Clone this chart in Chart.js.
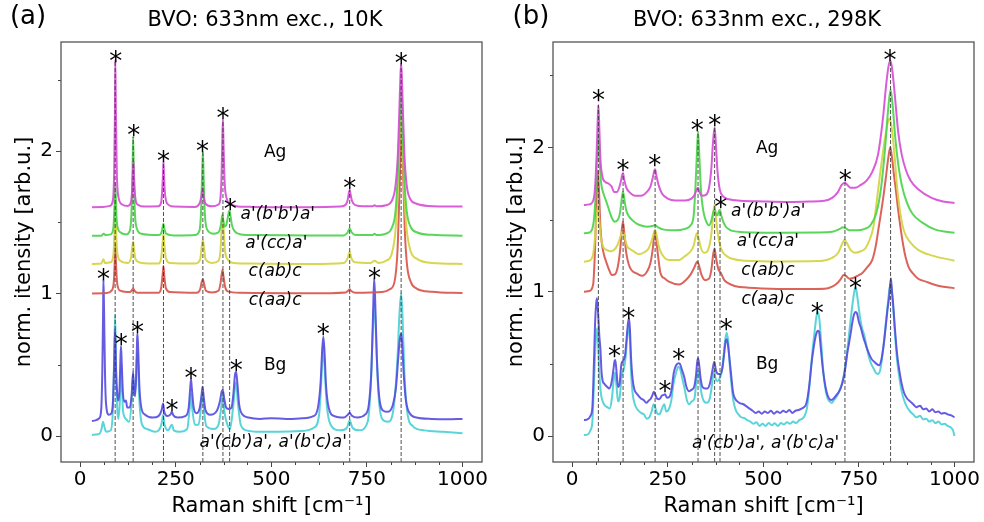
<!DOCTYPE html>
<html>
<head>
<meta charset="utf-8">
<script src="https://cdn.jsdelivr.net/npm/chart.js@4.4.1/dist/chart.umd.min.js"></script>
<style>
  body { margin: 0; background: #fff; }
  #wrap { position: relative; width: 984px; height: 522px; }
  canvas { position: absolute; top: 0; }
</style>
</head>
<body>
<div id="wrap">
  <canvas id="panelA" width="492" height="522" style="left:0"></canvas>
  <canvas id="panelB" width="492" height="522" style="left:492px"></canvas>
</div>
<script>
// ---- axis ticks ----
const xTicks = [0, 250, 500, 750, 1000];
const yTicks = [0, 1, 2];

// ---- text labels ----
const titles = ['BVO: 633nm exc., 10K', 'BVO: 633nm exc., 298K'];
const tags = ['(a)', '(b)'];
const modeLabels = ['Ag', "a'(b'b')a'", "a'(cc)a'", 'c(ab)c', 'c(aa)c', 'Bg', "a'(cb')a', a'(b'c)a'"];
const labelXA = [510, 517, 513, 510, 510, 510, 505];
const labelYA = [1.99, 1.551, 1.354, 1.153, 0.954, 0.498, -0.047];
const labelXB = [510, 513, 512, 512, 512, 510, 506];
const labelYB = [1.994, 1.554, 1.347, 1.146, 0.947, 0.497, -0.05];

// ---- peak markers (asterisks) ----
const starsA = [[93.4, 2.68], [140.5, 2.16], [218, 1.98], [320, 2.05], [373.5, 2.28], [392.7, 1.64], [705, 1.79], [839.5, 2.67],
  [61, 1.149], [107.3, 0.697], [150, 0.779], [240, 0.229], [289.7, 0.456], [408, 0.51], [636, 0.763], [769.6, 1.158]];
const starsB = [[68.7, 2.375], [133.3, 1.89], [216, 1.924], [327.5, 2.167], [372.7, 2.206], [388.4, 1.636], [714.3, 1.82], [831, 2.652],
  [110.6, 0.605], [148, 0.868], [243, 0.36], [278.7, 0.584], [403.3, 0.792], [641, 0.903], [741.3, 1.076]];

// ---- dashed guide lines: position and top ----
const guideXA = [91.6, 138.7, 218, 321, 373.5, 391, 705, 839.5];
const guideTopA = [2.64, 2.10, 1.925, 1.99, 2.22, 1.58, 1.726, 2.61];
const guideXB = [68.7, 133.3, 217, 329.3, 372.7, 386.8, 713.5, 832.8];
const guideTopB = [2.294, 1.82, 1.848, 2.109, 2.139, 1.566, 1.755, 2.60];

// ---- panel (a): 10K spectra ----
const aBB = [[31,1.605],[60,1.607],[78,1.615],[86,1.66],[89,1.85],[91,2.25],[92,2.64],[93.5,2.3],[96,1.85],[100,1.68],[110,1.625],[125,1.615],[133,1.64],[136,1.72],[138,1.85],[139.5,1.93],[141,1.82],[144,1.68],[150,1.625],[170,1.61],[205,1.612],[212,1.64],[215,1.74],[217,1.86],[218,1.925],[219.5,1.82],[222,1.7],[228,1.63],[245,1.61],[300,1.608],[312,1.63],[317,1.68],[320,1.74],[323,1.68],[328,1.63],[345,1.612],[362,1.625],[367,1.67],[370,1.84],[372,2.1],[373.5,2.22],[375,2.05],[378,1.78],[383,1.67],[392,1.63],[405,1.615],[450,1.608],[600,1.606],[680,1.61],[695,1.625],[700,1.66],[703,1.71],[705,1.726],[707,1.7],[711,1.65],[720,1.62],[740,1.612],[765,1.612],[770,1.62],[775,1.612],[800,1.62],[815,1.65],[825,1.76],[831,1.98],[835,2.3],[838,2.55],[839.5,2.61],[841,2.55],[844,2.3],[848,1.98],[854,1.76],[864,1.66],[880,1.63],[910,1.615],[1000,1.61]];
const aCC = [[31,1.405],[55,1.405],[62,1.42],[66,1.41],[80,1.415],[87,1.46],[90,1.62],[92,1.78],[94,1.6],[97,1.48],[105,1.43],[120,1.415],[130,1.44],[134,1.55],[137,1.85],[138.7,2.10],[140.5,1.85],[143,1.58],[148,1.46],[160,1.42],[205,1.41],[213,1.43],[216,1.47],[218,1.49],[220,1.46],[225,1.42],[245,1.408],[300,1.41],[312,1.44],[316,1.56],[319,1.83],[321,1.995],[323,1.82],[326,1.57],[332,1.45],[350,1.42],[362,1.43],[368,1.48],[372,1.55],[374,1.52],[378,1.47],[382,1.48],[386,1.53],[389,1.575],[391,1.581],[393,1.55],[397,1.48],[405,1.435],[420,1.415],[460,1.41],[600,1.407],[690,1.408],[700,1.43],[705,1.457],[710,1.43],[720,1.41],[765,1.41],[770,1.42],[775,1.41],[800,1.42],[815,1.46],[825,1.58],[831,1.85],[835,2.15],[838,2.4],[839.5,2.45],[841,2.38],[844,2.1],[848,1.8],[854,1.58],[864,1.47],[880,1.43],[920,1.412],[1000,1.406]];
const aAB = [[31,1.207],[55,1.21],[61,1.24],[65,1.215],[80,1.22],[87,1.27],[90,1.45],[92,1.69],[94,1.45],[97,1.29],[105,1.23],[125,1.215],[133,1.25],[136,1.32],[138.7,1.364],[141,1.31],[145,1.24],[160,1.215],[205,1.21],[212,1.25],[216,1.37],[218,1.42],[220,1.36],[224,1.25],[235,1.215],[300,1.21],[314,1.24],[318,1.33],[321,1.375],[324,1.32],[328,1.24],[345,1.215],[362,1.23],[367,1.3],[370,1.45],[372.5,1.56],[375,1.46],[379,1.3],[386,1.24],[400,1.215],[450,1.21],[600,1.208],[690,1.215],[700,1.25],[705,1.293],[709,1.25],[718,1.22],[760,1.215],[770,1.23],[780,1.215],[800,1.23],[815,1.28],[825,1.45],[831,1.75],[835,2.05],[838,2.27],[839.5,2.3],[841,2.25],[844,2.0],[848,1.68],[854,1.45],[864,1.3],[880,1.245],[920,1.215],[1000,1.208]];
const aAA = [[31,1.0],[70,1.003],[82,1.02],[88,1.08],[90.5,1.22],[92,1.35],[94,1.2],[97,1.07],[105,1.02],[130,1.01],[136,1.025],[139,1.036],[142,1.02],[150,1.005],[205,1.005],[212,1.04],[216,1.14],[218,1.193],[220,1.13],[224,1.04],[235,1.01],[305,1.005],[314,1.03],[318,1.08],[321,1.10],[324,1.07],[329,1.02],[345,1.008],[362,1.02],[367,1.07],[370,1.13],[372.5,1.165],[375,1.12],[379,1.05],[386,1.015],[420,1.005],[600,1.002],[695,1.008],[701,1.02],[705,1.03],[709,1.018],[720,1.005],[790,1.01],[810,1.03],[822,1.08],[830,1.3],[835,1.7],[838.5,2.05],[840.5,2.2],[842.5,2.08],[845,1.8],[849,1.45],[855,1.2],[865,1.08],[880,1.035],[920,1.012],[1000,1.003]];
const aCB = [[31,0.105],[40,0.11],[50,0.125],[55,0.18],[58,0.45],[60,0.85],[61,1.10],[62.5,0.9],[65,0.45],[68,0.22],[75,0.15],[82,0.16],[86,0.25],[89,0.5],[91.5,0.75],[94,0.45],[97,0.3],[100,0.25],[103,0.32],[105.5,0.55],[107,0.632],[109,0.5],[112,0.3],[116,0.24],[120,0.25],[123,0.2],[130,0.2],[135,0.3],[138.5,0.45],[141,0.32],[144,0.28],[147,0.45],[149,0.68],[150,0.72],[152,0.6],[155,0.35],[160,0.2],[170,0.15],[190,0.13],[205,0.14],[213,0.18],[217,0.229],[220,0.17],[228,0.14],[236,0.15],[240,0.17],[244,0.145],[255,0.13],[275,0.14],[284,0.2],[288,0.34],[290,0.398],[292,0.34],[297,0.2],[305,0.16],[313,0.2],[318,0.3],[320,0.346],[323,0.28],[328,0.18],[340,0.15],[358,0.18],[366,0.25],[370,0.31],[373,0.323],[377,0.26],[382,0.2],[390,0.19],[396,0.2],[401,0.3],[405,0.43],[408,0.45],[411,0.38],[416,0.22],[425,0.15],[440,0.13],[470,0.12],[500,0.125],[540,0.12],[580,0.125],[610,0.14],[622,0.2],[629,0.38],[633,0.6],[636,0.697],[639,0.6],[643,0.36],[650,0.2],[665,0.14],[690,0.13],[700,0.15],[705,0.164],[710,0.145],[725,0.13],[745,0.15],[755,0.22],[762,0.48],[766,0.85],[769,1.107],[772,0.92],[776,0.55],[782,0.28],[792,0.18],[805,0.17],[818,0.22],[826,0.34],[832,0.55],[836,0.68],[839.5,0.72],[842,0.66],[846,0.45],[852,0.25],[862,0.16],[880,0.13],[920,0.12],[960,0.118],[1000,0.12]];
const aBC = [[31,0.008],[50,0.015],[56,0.05],[60,0.10],[63,0.07],[68,0.03],[80,0.04],[86,0.2],[89,0.55],[91.5,0.85],[94,0.5],[97,0.2],[100,0.12],[104,0.25],[107,0.5],[109,0.4],[112,0.18],[120,0.12],[128,0.1],[135,0.25],[138.5,0.43],[141,0.3],[145,0.35],[149,0.58],[151,0.55],[155,0.25],[162,0.08],[175,0.05],[195,0.03],[210,0.06],[214,0.1],[217,0.15],[220,0.09],[230,0.04],[240,0.08],[245,0.04],[260,0.03],[280,0.05],[286,0.18],[290,0.3],[293,0.2],[300,0.08],[310,0.08],[316,0.2],[320,0.3],[324,0.18],[330,0.07],[350,0.05],[362,0.08],[368,0.18],[373,0.28],[378,0.16],[385,0.08],[392,0.05],[400,0.2],[405,0.34],[408,0.38],[412,0.25],[420,0.08],[435,0.04],[470,0.03],[520,0.03],[580,0.035],[612,0.06],[625,0.15],[630,0.35],[634,0.58],[636,0.65],[639,0.5],[645,0.22],[655,0.08],[680,0.04],[698,0.06],[705,0.11],[712,0.06],[730,0.04],[752,0.1],[760,0.35],[765,0.7],[769,0.95],[773,0.75],[780,0.3],[790,0.12],[805,0.1],[820,0.2],[830,0.55],[835,0.85],[839.5,1.0],[843,0.85],[848,0.45],[855,0.18],[870,0.07],[900,0.04],[950,0.03],[1000,0.02]];

// ---- panel (b): 298K spectra ----
const bBB = [[31,1.60],[45,1.605],[55,1.63],[60,1.72],[64,1.95],[67,2.2],[68.7,2.294],[71,2.15],[74,1.92],[79,1.8],[87,1.76],[95,1.75],[103,1.73],[110,1.69],[117,1.69],[123,1.72],[128,1.77],[131,1.81],[133.3,1.82],[136,1.78],[142,1.72],[150,1.69],[165,1.665],[180,1.665],[195,1.69],[205,1.73],[211,1.79],[215,1.84],[217,1.848],[220,1.81],[226,1.74],[235,1.68],[250,1.645],[270,1.632],[295,1.632],[312,1.645],[320,1.67],[326,1.71],[329.3,1.72],[333,1.69],[340,1.665],[350,1.67],[358,1.72],[364,1.85],[368,2.02],[372.7,2.139],[376,2.02],[380,1.84],[386,1.71],[395,1.66],[410,1.64],[440,1.63],[500,1.625],[560,1.622],[620,1.625],[660,1.63],[680,1.65],[695,1.69],[705,1.74],[713.5,1.755],[720,1.74],[728,1.72],[740,1.72],[755,1.74],[770,1.77],[785,1.83],[800,1.95],[812,2.18],[822,2.45],[828,2.57],[832.8,2.60],[838,2.52],[845,2.33],[853,2.1],[862,1.95],[872,1.85],[885,1.77],[905,1.71],[940,1.65],[970,1.625],[1000,1.615]];
const bCC = [[31,1.405],[45,1.41],[55,1.46],[60,1.6],[64,1.85],[68.7,2.08],[72,1.9],[76,1.75],[82,1.68],[88,1.635],[95,1.58],[101,1.53],[111,1.485],[120,1.5],[126,1.56],[130,1.65],[133.3,1.693],[137,1.63],[142,1.56],[149,1.52],[160,1.49],[170,1.47],[185,1.455],[195,1.45],[210,1.455],[217,1.462],[225,1.445],[240,1.43],[270,1.425],[295,1.435],[310,1.46],[318,1.53],[323,1.75],[327,2.0],[329.3,2.109],[332,1.98],[337,1.7],[343,1.56],[350,1.49],[358,1.46],[364,1.49],[369,1.55],[372.7,1.57],[376,1.54],[380,1.53],[384,1.56],[386.8,1.566],[390,1.53],[396,1.48],[402,1.45],[415,1.425],[435,1.415],[470,1.41],[550,1.408],[640,1.41],[680,1.415],[700,1.435],[708,1.446],[715,1.44],[725,1.425],[745,1.425],[765,1.435],[780,1.46],[795,1.54],[808,1.72],[818,1.98],[826,2.25],[832.8,2.40],[838,2.3],[845,2.07],[853,1.88],[862,1.74],[875,1.62],[890,1.54],[915,1.48],[950,1.43],[1000,1.409]];
const bAB = [[31,1.208],[45,1.215],[55,1.26],[60,1.38],[64,1.52],[68,1.60],[71,1.5],[75,1.38],[81,1.31],[90,1.29],[101,1.28],[110,1.29],[118,1.32],[125,1.37],[130,1.41],[133.3,1.416],[137,1.38],[143,1.32],[155,1.29],[175,1.26],[190,1.275],[200,1.3],[210,1.37],[215,1.42],[217,1.43],[221,1.39],[226,1.32],[235,1.26],[253,1.22],[280,1.22],[297,1.25],[310,1.28],[318,1.32],[323,1.38],[326,1.405],[330,1.38],[336,1.31],[345,1.27],[352,1.275],[360,1.33],[365,1.42],[369,1.54],[372,1.60],[375,1.55],[380,1.42],[388,1.31],[395,1.27],[405,1.245],[416,1.23],[450,1.215],[550,1.21],[640,1.212],[680,1.235],[696,1.27],[706,1.33],[712,1.358],[718,1.34],[728,1.29],[741,1.27],[755,1.28],[767,1.30],[778,1.36],[788,1.45],[800,1.70],[812,1.95],[822,2.12],[829,2.2],[835,2.15],[843,1.95],[850,1.72],[858,1.55],[868,1.42],[885,1.34],[905,1.29],[942,1.25],[1000,1.215]];
const bAA = [[31,1.0],[45,1.005],[55,1.05],[60,1.3],[64,1.65],[67,1.84],[70,1.72],[74,1.45],[78,1.33],[83,1.26],[90,1.2],[97,1.15],[104,1.116],[112,1.12],[120,1.18],[126,1.3],[130,1.43],[133,1.485],[136,1.42],[141,1.28],[148,1.19],[155,1.15],[170,1.125],[183,1.11],[196,1.14],[205,1.2],[211,1.3],[215,1.4],[217,1.416],[220,1.36],[226,1.22],[231,1.13],[243,1.09],[253,1.07],[280,1.05],[297,1.08],[310,1.12],[320,1.17],[327,1.208],[331,1.19],[338,1.12],[348,1.08],[358,1.09],[364,1.15],[369,1.26],[372.5,1.30],[376,1.24],[382,1.16],[389,1.13],[398,1.08],[408,1.06],[425,1.04],[449,1.03],[520,1.02],[600,1.018],[660,1.02],[680,1.035],[694,1.06],[702,1.085],[710,1.116],[716,1.11],[725,1.09],[733,1.093],[746,1.11],[759,1.13],[772,1.17],[785,1.22],[795,1.33],[802,1.45],[812,1.62],[820,1.78],[827,1.93],[832,2.0],[837,1.92],[842,1.8],[846,1.72],[852,1.58],[859,1.44],[866,1.32],[872,1.24],[880,1.17],[890,1.13],[905,1.09],[925,1.07],[960,1.04],[1000,1.024]];
const bCB = [[31,0.111],[40,0.115],[48,0.14],[53,0.2],[57,0.5],[60,0.78],[63,0.92],[65,0.955],[68,0.85],[71,0.7],[74,0.6],[77,0.44],[80,0.38],[84,0.363],[88,0.35],[92,0.34],[97,0.33],[103,0.37],[108,0.46],[111,0.52],[113,0.527],[116,0.45],[120,0.34],[124,0.36],[129,0.5],[133,0.52],[138,0.55],[142,0.66],[146,0.78],[148.6,0.816],[151,0.75],[154,0.55],[158,0.4],[163,0.32],[170,0.29],[180,0.26],[187,0.25],[194,0.23],[200,0.245],[206,0.26],[211,0.29],[214,0.307],[218,0.285],[222,0.26],[228,0.255],[235,0.28],[240,0.285],[243,0.29],[248,0.265],[254,0.27],[260,0.32],[266,0.44],[272,0.49],[278,0.505],[282,0.5],[287,0.46],[293,0.41],[299,0.34],[306,0.31],[312,0.32],[319,0.34],[324,0.42],[327,0.51],[329.3,0.538],[332,0.5],[336,0.4],[341,0.34],[348,0.33],[354,0.33],[360,0.36],[366,0.44],[370,0.5],[372,0.515],[375,0.47],[378,0.44],[383,0.43],[388,0.43],[393,0.47],[398,0.58],[401,0.65],[404,0.67],[407,0.64],[411,0.55],[416,0.42],[421,0.3],[426,0.26],[432,0.24],[440,0.226],[448,0.22],[456,0.205],[464,0.19],[472,0.175],[480,0.16],[488,0.17],[496,0.155],[504,0.17],[512,0.16],[520,0.175],[528,0.155],[536,0.17],[544,0.16],[552,0.175],[560,0.165],[568,0.18],[576,0.16],[584,0.175],[592,0.18],[600,0.19],[606,0.2],[611,0.215],[616,0.27],[621,0.37],[626,0.5],[631,0.6],[636,0.68],[640,0.72],[643,0.73],[646,0.72],[650,0.62],[655,0.48],[660,0.38],[666,0.3],[672,0.26],[678,0.25],[684,0.26],[690,0.28],[696,0.3],[702,0.33],[708,0.38],[712,0.43],[716,0.5],[720,0.58],[724,0.64],[729,0.72],[733,0.79],[737,0.84],[741,0.86],[745,0.85],[750,0.79],[755,0.75],[762,0.68],[767,0.64],[772,0.6],[778,0.56],[784,0.53],[790,0.515],[796,0.5],[803,0.49],[808,0.52],[812,0.58],[816,0.66],[821,0.78],[825,0.88],[829,0.96],[833.6,1.093],[836,1.02],[840,0.9],[844,0.75],[848,0.62],[852,0.52],[856,0.45],[862,0.36],[868,0.3],[876,0.26],[884,0.24],[892,0.22],[900,0.2],[910,0.21],[918,0.185],[926,0.19],[934,0.17],[942,0.185],[950,0.165],[958,0.17],[966,0.155],[974,0.16],[982,0.15],[990,0.145],[1000,0.13]];
const bBC = [[31,0.007],[40,0.01],[48,0.04],[53,0.1],[57,0.35],[61,0.62],[65,0.746],[68,0.65],[71,0.45],[75,0.3],[80,0.24],[86,0.21],[92,0.2],[98,0.19],[104,0.26],[108,0.37],[112,0.44],[116,0.35],[120,0.24],[124,0.26],[130,0.42],[135,0.46],[140,0.55],[144,0.68],[148,0.76],[151,0.68],[154,0.45],[158,0.3],[164,0.22],[172,0.18],[180,0.16],[188,0.15],[195,0.12],[202,0.13],[208,0.17],[213,0.22],[217,0.2],[222,0.16],[228,0.15],[235,0.19],[241,0.22],[246,0.17],[252,0.18],[259,0.24],[265,0.36],[272,0.44],[278,0.48],[283,0.46],[288,0.4],[294,0.33],[300,0.25],[306,0.22],[313,0.24],[320,0.26],[325,0.38],[329,0.45],[333,0.4],[338,0.3],[345,0.24],[352,0.23],[360,0.26],[366,0.36],[371,0.45],[375,0.4],[380,0.38],[386,0.4],[391,0.44],[396,0.55],[400,0.66],[404,0.716],[408,0.66],[412,0.5],[417,0.35],[422,0.24],[428,0.18],[435,0.15],[442,0.13],[450,0.125],[458,0.11],[466,0.1],[474,0.085],[482,0.095],[490,0.07],[498,0.085],[506,0.07],[514,0.09],[522,0.075],[530,0.088],[538,0.07],[546,0.09],[554,0.08],[562,0.095],[570,0.085],[578,0.1],[586,0.09],[594,0.11],[602,0.12],[608,0.14],[614,0.19],[619,0.3],[624,0.45],[629,0.6],[634,0.72],[639,0.83],[643,0.86],[647,0.8],[651,0.66],[656,0.48],[661,0.35],[667,0.27],[673,0.24],[679,0.23],[685,0.25],[691,0.27],[697,0.3],[703,0.34],[709,0.4],[714,0.48],[719,0.58],[724,0.7],[729,0.82],[734,0.93],[738,1.0],[741,1.03],[744,1.0],[748,0.92],[753,0.82],[758,0.75],[764,0.7],[770,0.62],[776,0.55],[782,0.5],[788,0.47],[794,0.44],[800,0.43],[806,0.46],[811,0.55],[816,0.66],[821,0.8],[826,0.93],[830,1.02],[833.6,1.06],[837,0.98],[841,0.84],[845,0.68],[850,0.52],[855,0.42],[861,0.32],[868,0.25],[876,0.2],[884,0.17],[892,0.15],[900,0.13],[910,0.14],[918,0.115],[926,0.12],[934,0.1],[942,0.11],[950,0.09],[958,0.1],[966,0.08],[974,0.085],[982,0.07],[990,0.06],[996,0.04],[1000,0.0]];

const FONT = '"DejaVu Sans", sans-serif';
Chart.defaults.font.family = FONT;
Chart.defaults.color = '#000';

const colors = {
  bb: 'rgba(214, 78, 214, 0.92)',
  cc: 'rgba(76, 210, 76, 0.92)',
  ab: 'rgba(210, 210, 66, 0.92)',
  aa: 'rgba(216, 86, 76, 0.92)',
  cb: 'rgba(88, 78, 222, 0.92)',
  bc: 'rgba(76, 208, 214, 0.92)'
};

// text, stars, minor ticks and frame
const decor = {
  id: 'decor',
  afterDatasetsDraw(chart, args, o) {
    const { ctx, chartArea: a } = chart;
    const x = chart.scales.x, y = chart.scales.y;
    ctx.save();

    // minor ticks
    ctx.strokeStyle = '#444';
    ctx.lineWidth = 1;
    for (let v = 62.5; v < x.max; v += 62.5) {
      if (v % 250 === 0) continue;
      const px = Math.round(x.getPixelForValue(v)) + 0.5;
      ctx.beginPath(); ctx.moveTo(px, a.bottom); ctx.lineTo(px, a.bottom + 3); ctx.stroke();
    }
    for (let v = 0.5; v < y.max; v += 1) {
      const py = Math.round(y.getPixelForValue(v)) + 0.5;
      ctx.beginPath(); ctx.moveTo(a.left - 3, py); ctx.lineTo(a.left, py); ctx.stroke();
    }

    // mode labels
    ctx.fillStyle = '#000';
    ctx.textAlign = 'center';
    ctx.textBaseline = 'middle';
    modeLabels.forEach((t, i) => {
      const plain = (t === 'Ag' || t === 'Bg');
      ctx.font = (plain ? '' : 'italic ') + '17px ' + FONT;
      ctx.fillText(t, x.getPixelForValue(o.lx[i]), y.getPixelForValue(o.ly[i]));
    });

    // asterisks on peaks
    ctx.font = '26px ' + FONT;
    ctx.textBaseline = 'alphabetic';
    o.stars.forEach(s => {
      ctx.fillText('*', x.getPixelForValue(s[0]), y.getPixelForValue(s[1]) + 16);
    });

    // frame
    ctx.strokeStyle = '#555';
    ctx.lineWidth = 1.3;
    ctx.strokeRect(a.left, a.top, a.right - a.left, a.bottom - a.top);

    // heading and panel tag
    ctx.textBaseline = 'middle';
    ctx.font = '21px ' + FONT;
    ctx.fillText(o.title, 265, 21);
    ctx.font = '26px ' + FONT;
    ctx.fillText(o.tag, o.tagX, 17);
    ctx.restore();
  }
};

function spectrum(data, color) {
  return { data, borderColor: color, borderWidth: 2, pointRadius: 0, fill: false, cubicInterpolationMode: 'monotone' };
}

function guides(xs, tops, yMin) {
  return xs.map((v, i) => ({
    data: [[v, yMin], [v, tops[i]]],
    borderColor: 'rgba(50, 50, 50, 0.85)', borderWidth: 1, borderDash: [4, 2], pointRadius: 0, fill: false
  }));
}

function makePanel(id, p) {
  const datasets = guides(p.gx, p.gtop, p.ymin).concat([
    spectrum(p.s[0], colors.bb),
    spectrum(p.s[1], colors.cc),
    spectrum(p.s[2], colors.ab),
    spectrum(p.s[3], colors.aa),
    spectrum(p.s[4], colors.cb),
    spectrum(p.s[5], colors.bc)
  ]);
  return new Chart(document.getElementById(id), {
    type: 'line',
    data: { datasets },
    plugins: [decor],
    options: {
      responsive: false,
      animation: false,
      events: [],
      layout: { padding: { top: 42, right: 10, left: 0, bottom: 0 } },
      plugins: {
        legend: { display: false },
        tooltip: { enabled: false },
        decor: { lx: p.lx, ly: p.ly, stars: p.stars, title: p.title, tag: p.tag, tagX: p.tagX }
      },
      scales: {
        x: {
          type: 'linear', min: -50, max: 1051,
          afterBuildTicks: s => { s.ticks = xTicks.map(v => ({ value: v })); },
          afterFit: s => { s.height = 60; },
          ticks: { font: { size: 20 }, color: '#000', padding: 1, maxRotation: 0, autoSkip: false, callback: v => String(v) },
          grid: { drawOnChartArea: false, drawTicks: true, tickLength: 5, color: '#444' },
          border: { display: false },
          title: { display: true, text: 'Raman shift [cm⁻¹]', font: { size: 21 }, color: '#000', padding: { top: 0, bottom: 2.4 } }
        },
        y: {
          type: 'linear', min: p.ymin, max: p.ymax,
          afterBuildTicks: s => { s.ticks = yTicks.map(v => ({ value: v })); },
          afterFit: s => { s.width = 61; },
          ticks: { font: { size: 20 }, color: '#000', padding: 3, callback: v => String(v) },
          grid: { drawOnChartArea: false, drawTicks: true, tickLength: 5, color: '#444' },
          border: { display: false },
          title: { display: true, text: 'norm. itensity [arb.u.]', font: { size: 21 }, color: '#000', padding: { top: 12, bottom: 0 } }
        }
      }
    }
  });
}

makePanel('panelA', {
  s: [aBB, aCC, aAB, aAA, aCB, aBC],
  gx: guideXA, gtop: guideTopA, ymin: -0.182, ymax: 2.765,
  lx: labelXA, ly: labelYA, stars: starsA,
  title: titles[0], tag: tags[0], tagX: 28
});
makePanel('panelB', {
  s: [bBB, bCC, bAB, bAA, bCB, bBC],
  gx: guideXB, gtop: guideTopB, ymin: -0.18, ymax: 2.73,
  lx: labelXB, ly: labelYB, stars: starsB,
  title: titles[1], tag: tags[1], tagX: 39
});
</script>
</body>
</html>
